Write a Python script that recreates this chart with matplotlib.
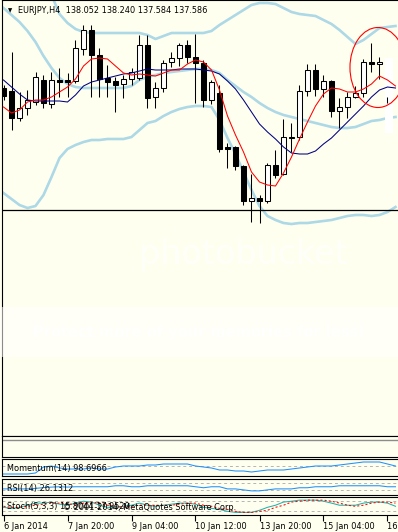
import matplotlib
matplotlib.use("Agg")
import matplotlib.pyplot as plt
from matplotlib.patches import Rectangle, Ellipse

W, H = 398, 532
BG = "#fffff0"
FS = 5.9
plt.rcParams["font.family"] = ["DejaVu Sans"]

# EURJPY H4 candles, bar 0 = 6 Jan 2014 12:00
opens = [137.54, 137.48, 136.94, 137.14, 137.26, 137.70, 137.22, 137.70, 137.70, 137.68,
         138.32, 138.70, 138.20, 137.74, 137.68, 137.62, 137.72, 137.74, 138.40, 137.36,
         137.54, 138.06, 138.14, 138.40, 138.16, 138.04, 137.30, 137.44, 136.36, 136.36,
         135.98, 135.28, 135.34, 135.28, 136.00, 135.82, 136.54, 136.56, 137.48, 137.90,
         137.52, 137.68, 137.08, 137.16, 137.36, 137.44, 138.06, 138.02]
highs = [137.60, 138.26, 137.46, 137.50, 137.86, 137.80, 137.86, 137.94, 137.84, 138.50,
         138.80, 138.80, 138.34, 138.00, 137.76, 137.80, 137.94, 138.60, 138.60, 137.66,
         138.10, 138.26, 138.44, 138.50, 138.62, 138.10, 137.70, 137.60, 136.44, 136.38,
         136.00, 135.82, 135.40, 136.04, 136.30, 136.92, 136.84, 137.60, 138.02, 138.02,
         137.80, 137.70, 137.34, 137.46, 137.58, 138.12, 138.44, 138.16]
lows = [137.30, 136.70, 136.88, 137.00, 137.20, 137.14, 137.14, 137.36, 137.36, 137.64,
        138.20, 137.36, 137.36, 137.36, 137.06, 137.34, 137.60, 137.70, 137.14, 137.14,
        137.46, 137.96, 137.98, 138.04, 137.24, 137.16, 137.22, 136.26, 135.94, 135.90,
        135.20, 134.86, 134.84, 135.24, 135.74, 135.80, 136.26, 136.50, 137.38, 137.38,
        137.36, 136.96, 136.74, 136.94, 137.34, 137.36, 137.86, 137.72]
closes = [137.38, 136.94, 137.14, 137.30, 137.76, 137.24, 137.70, 137.66, 137.66, 138.34,
          138.70, 138.20, 137.72, 137.66, 137.60, 137.72, 137.86, 138.40, 137.34, 137.54,
          138.04, 138.14, 138.40, 138.16, 138.04, 137.30, 137.66, 136.32, 136.32, 135.98,
          135.28, 135.34, 135.28, 136.00, 135.80, 136.56, 136.56, 137.48, 137.90, 137.52,
          137.68, 137.08, 137.16, 137.36, 137.44, 138.06, 138.02, 138.06]

# indicator lines, bars 0..49
ma_fast = [137.16, 137.04, 137.10, 137.26, 137.30, 137.30, 137.36, 137.46, 137.56, 137.72,
           137.98, 138.12, 138.14, 138.12, 137.98, 137.84, 137.80, 137.82, 137.80, 137.78,
           137.84, 137.90, 137.90, 138.02, 138.10, 138.06, 137.90, 137.50, 136.98, 136.60,
           136.26, 135.86, 135.66, 135.60, 135.58, 135.84, 136.16, 136.52, 136.86, 137.18,
           137.42, 137.54, 137.52, 137.46, 137.46, 137.52, 137.62, 137.78, 137.70, 137.58]
ma_slow = [137.70, 137.56, 137.42, 137.30, 137.28, 137.28, 137.28, 137.28, 137.26, 137.40,
           137.58, 137.66, 137.70, 137.74, 137.78, 137.82, 137.84, 137.88, 137.92, 137.90,
           137.90, 137.90, 137.92, 137.92, 137.92, 137.90, 137.88, 137.82, 137.68, 137.52,
           137.30, 137.06, 136.82, 136.66, 136.52, 136.36, 136.24, 136.22, 136.22, 136.28,
           136.42, 136.54, 136.70, 136.86, 137.02, 137.18, 137.36, 137.50, 137.56, 137.54]
bb_upper = [140.50, 140.30, 140.10, 139.90, 139.70, 139.50, 139.40, 139.02, 138.84, 138.72,
            138.66, 138.64, 138.64, 138.64, 138.64, 138.64, 138.64, 138.64, 138.60, 138.52,
            138.58, 138.64, 138.64, 138.64, 138.64, 138.64, 138.68, 138.80, 138.90, 139.00,
            139.10, 139.20, 139.24, 139.24, 139.22, 139.14, 139.06, 139.02, 139.00, 138.98,
            138.90, 138.82, 138.70, 138.56, 138.42, 138.50, 138.62, 138.74, 138.76, 138.78]
bb_mid = [139.14, 139.00, 138.86, 138.68, 138.46, 138.18, 137.94, 137.74, 137.62, 137.56,
          137.54, 137.54, 137.54, 137.54, 137.54, 137.54, 137.58, 137.70, 137.76, 137.80,
          137.84, 137.86, 137.88, 137.90, 137.92, 137.92, 137.90, 137.84, 137.70, 137.58,
          137.46, 137.36, 137.24, 137.14, 137.06, 137.00, 136.96, 136.92, 136.88, 136.84,
          136.80, 136.76, 136.74, 136.74, 136.76, 136.82, 136.88, 136.90, 136.94, 136.96]
bb_lower = [135.44, 135.32, 135.20, 135.14, 135.18, 135.40, 135.76, 136.14, 136.32, 136.40,
            136.46, 136.50, 136.50, 136.52, 136.52, 136.52, 136.56, 136.70, 136.84, 136.88,
            136.98, 137.06, 137.12, 137.16, 137.18, 137.18, 137.16, 136.90, 136.54, 136.22,
            135.86, 135.50, 135.18, 134.98, 134.90, 134.84, 134.82, 134.84, 134.84, 134.86,
            134.88, 134.90, 134.94, 134.98, 135.00, 135.00, 134.98, 135.00, 135.06, 135.16]

momentum = [98.00, 98.00, 98.00, 98.00, 98.25, 99.75, 100.00, 99.50, 99.25, 99.25,
            99.25, 99.50, 99.25, 99.25, 99.75, 100.00, 100.00, 100.00, 100.25, 100.25,
            100.50, 100.50, 100.50, 100.50, 100.00, 99.75, 99.50, 99.00, 99.00, 98.75,
            98.75, 98.50, 98.75, 99.00, 99.00, 99.00, 99.25, 99.50, 99.75, 100.00,
            100.00, 100.00, 100.25, 100.50, 100.75, 101.00, 101.00, 101.00, 100.50, 100.00]
rsi = [37, 37, 37, 37, 40, 45, 48, 50, 48, 50, 50, 50, 50, 50, 56, 56, 50, 50, 56, 56,
       56, 56, 56, 56, 50, 44, 50, 50, 37, 37, 31, 25, 25, 31, 37, 37, 37, 44, 44, 50,
       50, 50, 56, 56, 56, 56, 56, 56, 50, 50]
stoch_main = [41, 35, 41, 53, 65, 65, 71, 59, 53, 65, 76, 71, 53, 41, 41, 47, 53, 65, 53, 47,
              53, 59, 65, 65, 59, 41, 35, 29, 18, 12, 12, 12, 24, 41, 53, 71, 76, 82, 82, 82,
              76, 65, 53, 53, 53, 65, 71, 71, 65, 47]
stoch_signal = [47, 41, 41, 47, 53, 59, 65, 65, 59, 59, 65, 71, 65, 53, 47, 41, 47, 53, 53, 53,
                53, 53, 59, 65, 65, 53, 47, 35, 29, 18, 12, 12, 18, 24, 41, 53, 71, 76, 82, 82,
                82, 76, 65, 53, 47, 53, 65, 71, 71, 65]

hline_level = 135.11
tick_bars = [0, 8, 16, 24, 32, 40, 48]
tick_labels = ["6 Jan 2014", "7 Jan 20:00", "9 Jan 04:00", "10 Jan 12:00",
               "13 Jan 20:00", "15 Jan 04:00", "16 Jan 12:00"]

fig = plt.figure(figsize=(W / 100, H / 100), dpi=100, facecolor=BG)


def panel(top, bottom):
    ax = fig.add_axes([2 / W, 1 - bottom / H, 398 / W, (bottom - top) / H])
    ax.set_facecolor(BG)
    ax.set_xlim(-0.1875, 49.5625)
    ax.set_xticks([])
    ax.set_yticks([])
    for s in ax.spines.values():
        s.set_color("black")
        s.set_linewidth(0.8)
    return ax


# main price window
ax = panel(0, 436)
ax.set_ylim(130.58, 139.30)
xs = list(range(len(ma_fast)))
for band in (bb_upper, bb_mid, bb_lower):
    ax.plot(xs, band, color="#add8e6", lw=1.9, zorder=2)
ax.axhline(hline_level, color="black", lw=0.9, zorder=2)

bars = list(range(len(opens)))
ax.vlines(bars, lows, highs, color="black", lw=0.75, zorder=3)
for i in bars:
    o, c = opens[i], closes[i]
    fc = "black" if c < o else "white"
    ax.add_patch(Rectangle((i - 0.28, min(o, c)), 0.56, max(abs(c - o), 0.02),
                           facecolor=fc, edgecolor="black", lw=0.75, zorder=4))

# last bar got blanked out in the screenshot
ax.add_patch(Rectangle((47.7, 136.64), 1.0, 1.5, facecolor="white", edgecolor="none", zorder=5))
ax.vlines([48], [137.24], [137.36], color="black", lw=0.75, zorder=5)

ax.plot(xs, ma_slow, color="#000080", lw=0.75, zorder=6)
ax.plot(xs, ma_fast, color="red", lw=0.75, zorder=6)
ax.add_patch(Ellipse((46.81, 137.95), 7.0, 1.6, fill=False, edgecolor="red", lw=0.8, zorder=7))

fig.text(10 / W, 1 - 10.5 / H, "\u25bc", fontsize=4, ha="center", va="center")
fig.text(18 / W, 1 - 10.5 / H, "EURJPY,H4  138.052 138.240 137.584 137.586",
         fontsize=FS, va="center")

# empty window
ax0 = panel(436, 457)
ax0.set_ylim(0, 1)
ax0.axhline(0.81, color="#8c8c8c", lw=1.0)

# momentum
axm = panel(459, 476)
axm.set_ylim(97.5, 101.75)
axm.axhline(100, color="#b4b4b4", lw=0.7, ls=(0, (3, 3)))
axm.plot(xs, momentum, color="#1e90ff", lw=0.75)
fig.text(7 / W, 1 - 469 / H, "Momentum(14) 98.6966", fontsize=FS, va="center", zorder=20)

# rsi
axr = panel(478.5, 495)
axr.set_ylim(0, 100)
for lvl in (70, 30):
    axr.axhline(lvl, color="#b4b4b4", lw=0.7, ls=(0, (3, 3)))
axr.plot(xs, rsi, color="#1e90ff", lw=0.75)
fig.text(7 / W, 1 - 488 / H, "RSI(14) 26.1312", fontsize=FS, va="center", zorder=20)

# stochastic
axs = panel(497, 514.5)
axs.set_ylim(0, 100)
for lvl in (80, 20):
    axs.axhline(lvl, color="#b4b4b4", lw=0.7, ls=(0, (3, 3)))
axs.plot(xs, stoch_main, color="#20b2aa", lw=0.75)
axs.plot(xs, stoch_signal, color="red", lw=0.75, ls=(0, (2, 2)))
fig.text(7 / W, 1 - 507 / H, "Stoch(5,3,3) 15.8044 17.9520", fontsize=FS, va="center", zorder=20)
fig.text(236 / W, 1 - 507 / H, "\u00a9 2001-2014, MetaQuotes Software Corp.", fontsize=FS,
         va="center", ha="right", zorder=20)

axs.set_xticks(tick_bars)
axs.set_xticklabels(tick_labels, ha="left")
axs.tick_params(axis="x", direction="out", length=4, width=0.8, pad=1.5, labelsize=FS)

# photobucket watermark
fig.text(243 / W, 1 - 254 / H, "photobucket", fontsize=24, color="white", alpha=0.7,
         ha="center", va="center", zorder=15)
fig.patches.append(Rectangle((0, 1 - 357 / H), 1, 50 / H, transform=fig.transFigure,
                             facecolor="white", edgecolor="none", alpha=0.55, zorder=15))
fig.text(199 / W, 1 - 332 / H, "Protect more of your memories for less!", fontsize=10.5,
         fontweight="bold", color="white", alpha=0.8, ha="center", va="center", zorder=16)

fig.savefig("out.png", dpi=100, facecolor=BG)
